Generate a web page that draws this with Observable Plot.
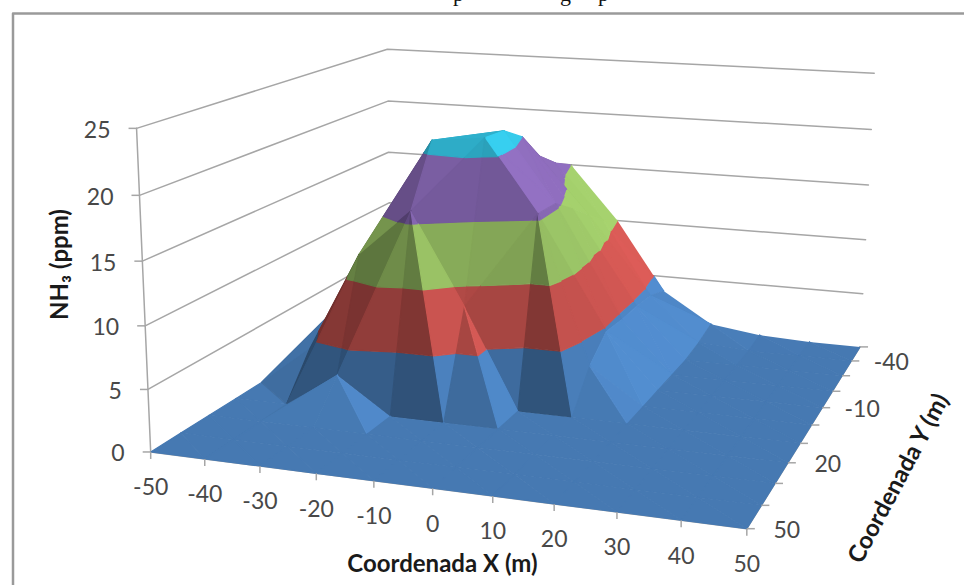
<!DOCTYPE html>
<html><head><meta charset="utf-8">
<script src="https://cdn.jsdelivr.net/npm/d3@7"></script>
<script src="https://cdn.jsdelivr.net/npm/@observablehq/plot@0.6"></script>
<style>html,body{margin:0;padding:0;background:#fff;overflow:hidden}svg{display:block}</style>
</head><body><div id="chart"></div>
<script>
const xValues=[-50,-40,-30,-20,-10,0,10,20,30,40,50];
const yValues=[-50,-40,-30,-20,-10,0,10,20,30,40,50];
const zTicks=[0,5,10,15,20,25];
const xLabels=[-50,-40,-30,-20,-10,0,10,20,30,40,50];
const yLabels=[-40,-10,20,50];
const ppmRows=[
 [0,.5,3,12,15,10,3.6,.8,.2,0,0],
 [0,.8,5,14,16,11,4.3,.3,0,0,0],
 [0,1.2,7,15.5,17.5,12.5,4.5,0,0,0,0],
 [0,2,10,18,20,14,4.5,0,0,0,0],
 [0,4,14,20,21.3,15.4,4.7,0,0,0,0],
 [0,5.5,13,21,21.5,15.5,3,0,0,0,0],
 [0,3.5,12,16,8.4,0,0,0,0,0,0],
 [0,0,3,0,0,0,0,0,0,0,0],
 [0,0,0,0,0,0,0,0,0,0,0],
 [0,0,0,0,0,0,0,0,0,0,0],
 [0,0,0,0,0,0,0,0,0,0,0]
];
const bandLows=[0,5,10,15,20];
const bandColors=["#4679b2","#bd4f4b","#90b65f","#7d60a6","#2fb0cc"];
const mainDiagonalCells=["-50,10"];

// camera calibration: box corners -> picture position
const anchors=[
 [-50,50,0,152,450],[50,50,0,748,528],[50,-50,0,860,346],[-50,-50,0,388,302],
 [-50,50,25,135,128],[-50,-50,25,388,48],[50,-50,25,873,73],
 [-50,-50,20,388,101],[-50,50,10,144,325],[50,-50,5,863,293],
 [0,50,0,432,490],[-50,-50,15,388,152],[50,20,0,785,462],[50,-10,0,822,407]
];
function fitCamera(){
  const A=[],b=[];
  for(const [X,Y,Z,u0,v0] of anchors){
    const x=X/50,y=Y/50,z=Z/25,u=u0/1000,v=v0/1000;
    A.push([x,y,z,1,0,0,0,0,-u*x,-u*y,-u*z]);b.push(u);
    A.push([0,0,0,0,x,y,z,1,-v*x,-v*y,-v*z]);b.push(v);
  }
  const n=11,M=[];
  for(let i=0;i<n;i++){M.push([]);for(let j=0;j<=n;j++){let s=0;for(let r=0;r<A.length;r++)s+=A[r][i]*(j<n?A[r][j]:b[r]);M[i].push(s);}}
  for(let i=0;i<n;i++){
    let p=i;for(let r=i+1;r<n;r++)if(Math.abs(M[r][i])>Math.abs(M[p][i]))p=r;
    [M[i],M[p]]=[M[p],M[i]];
    for(let r=0;r<n;r++){if(r===i)continue;const f=M[r][i]/M[i][i];for(let j=i;j<=n;j++)M[r][j]-=f*M[i][j];}
  }
  return M.map((row,i)=>row[n]/row[i]);
}
const cam=fitCamera();
function project(X,Y,Z){
  const x=X/50,y=Y/50,z=Z/25,w=cam[8]*x+cam[9]*y+cam[10]*z+1;
  return [1000*(cam[0]*x+cam[1]*y+cam[2]*z+cam[3])/w,1000*(cam[4]*x+cam[5]*y+cam[6]*z+cam[7])/w];
}
function clip(poly,lim,keepAbove){
  const out=[];
  for(let i=0;i<poly.length;i++){
    const a=poly[i],b=poly[(i+1)%poly.length];
    const ia=keepAbove?a[2]>=lim:a[2]<=lim, ib=keepAbove?b[2]>=lim:b[2]<=lim;
    if(ia)out.push(a);
    if(ia!==ib){const t=(lim-a[2])/(b[2]-a[2]);out.push([a[0]+t*(b[0]-a[0]),a[1]+t*(b[1]-a[1]),lim]);}
  }
  return out;
}
function shadeColor(base,tri){
  const [p,q,r]=tri;
  const ux=q[0]-p[0],uy=q[1]-p[1],uz=q[2]-p[2],vx=r[0]-p[0],vy=r[1]-p[1],vz=r[2]-p[2];
  let nx=uy*vz-uz*vy,ny=uz*vx-ux*vz,nz=ux*vy-uy*vx;
  if(nz<0){nx=-nx;ny=-ny;nz=-nz;}
  const l=Math.hypot(nx,ny,nz);
  let g=1+.617*nx/l+.163*ny/l+.976*(nz/l-1);
  g=Math.max(.6,Math.min(g,1+.6*(nz/l-.55)));
  if(g<1)g=1+(g-1)*Math.min(1,(1-nz/l)/.25);
  const c=d3.rgb(base);
  return d3.rgb(Math.min(255,c.r*g),Math.min(255,c.g*g),Math.min(255,c.b*g)).formatHex();
}
const facets=[];let fid=0;
function addTri(tri){
  bandLows.forEach((lo,i)=>{
    const hi=i===bandLows.length-1?1e9:lo+5;
    let poly=clip(tri,lo,true);
    if(poly.length)poly=clip(poly,hi,false);
    if(poly.length<3)return;
    const color=shadeColor(bandColors[i],tri);
    fid++;
    poly.forEach(pt=>{const [px,py]=project(pt[0],pt[1],pt[2]);facets.push({id:fid,px,py,color});});
  });
}
for(let r=0;r<yValues.length-1;r++)for(let c=0;c<xValues.length-1;c++){
  const P=(rr,cc)=>[xValues[cc],yValues[rr],ppmRows[rr][cc]];
  const a=P(r,c),b=P(r,c+1),d=P(r+1,c),e=P(r+1,c+1);
  if(a[2]+e[2]>=b[2]+d[2]||mainDiagonalCells.includes(xValues[c]+","+yValues[r])){addTri([a,d,e]);addTri([a,e,b]);}
  else{addTri([a,d,b]);addTri([b,d,e]);}
}
const wall=[];
zTicks.slice(1).forEach(z=>{
  [[-50,50],[-50,-50],[50,-50]].forEach(([X,Y])=>{const [px,py]=project(X,Y,z);wall.push({z,px,py});});
});
const P2=(X,Y,Z)=>{const [px,py]=project(X,Y,Z);return {px,py};};
const zAxis=[P2(-50,50,0),P2(-50,50,25)];
const frontEdge=xValues.map(X=>P2(X,50,0));
const sideEdge=yValues.map(Y=>P2(50,Y,0));
const zTickData=zTicks.map(z=>({...P2(-50,50,z),z}));
const xTickData=xLabels.map(X=>({...P2(X,50,0),X}));
const yTickData=yValues.map(Y=>({...P2(50,Y,0),Y}));
const grey="#a6a6a6",ink="#484848",labelFont="Lato";
const titleFont={fontFamily:labelFont,fontWeight:700,fontSize:24,fill:"#1a1a1a"};
const plot=Plot.plot({
  width:964,height:585,margin:0,
  x:{domain:[0,964],range:[0,964],axis:null},
  y:{domain:[0,585],range:[0,585],axis:null},
  color:{type:"identity"},
  style:{background:"#fff"},
  marks:[
    Plot.line(wall,{x:"px",y:"py",z:"z",stroke:grey,strokeWidth:1.5}),
    Plot.line(zAxis,{x:"px",y:"py",stroke:grey,strokeWidth:1.5}),
    Plot.line(frontEdge,{x:"px",y:"py",stroke:grey,strokeWidth:1.5}),
    Plot.line(sideEdge,{x:"px",y:"py",stroke:grey,strokeWidth:1.5}),
    Plot.line(facets,{x:"px",y:"py",z:"id",fill:"color",stroke:"color",strokeWidth:1.2,strokeLinejoin:"round"}),
    Plot.link(zTickData,{x1:"px",y1:"py",x2:d=>d.px-8,y2:"py",stroke:grey,strokeWidth:1.5}),
    Plot.link(xTickData,{x1:"px",y1:"py",x2:"px",y2:d=>d.py+7,stroke:grey,strokeWidth:1.5}),
    Plot.link(yTickData,{x1:"px",y1:"py",x2:d=>d.px+8,y2:"py",stroke:grey,strokeWidth:1.5}),
    Plot.text(zTickData,{x:"px",y:"py",text:"z",dx:-26,dy:2,textAnchor:"end",fontFamily:labelFont,fontSize:23,fill:ink}),
    Plot.text(xTickData,{x:"px",y:"py",text:"X",dy:36,fontFamily:labelFont,fontSize:23,fill:ink}),
    Plot.text(yTickData.filter(d=>yLabels.includes(d.Y)),{x:"px",y:"py",text:"Y",dx:40,dy:2,fontFamily:labelFont,fontSize:23,fill:ink}),
    Plot.text([{px:442,py:564,t:"Coordenada X (m)"}],{x:"px",y:"py",text:"t",...titleFont}),
    Plot.text([{px:898,py:478,t:"Coordenada Y (m)"}],{x:"px",y:"py",text:"t",rotate:-62,...titleFont}),
    Plot.text([{px:60,py:264,t:"NH₃ (ppm)"}],{x:"px",y:"py",text:"t",rotate:-90,...titleFont}),
    Plot.line([{px:964,py:13},{px:12.5,py:13},{px:12.5,py:585}],{x:"px",y:"py",stroke:"#9a9a9a",strokeWidth:2.5}),
    Plot.text([{px:458,t:"p"},{px:565,t:"g"},{px:603,t:"p"}],{x:"px",y:()=>-7,text:"t",fontFamily:"Liberation Serif",fontSize:22,fill:"#111"})
  ]
});
document.getElementById("chart").append(plot);
</script></body></html>
